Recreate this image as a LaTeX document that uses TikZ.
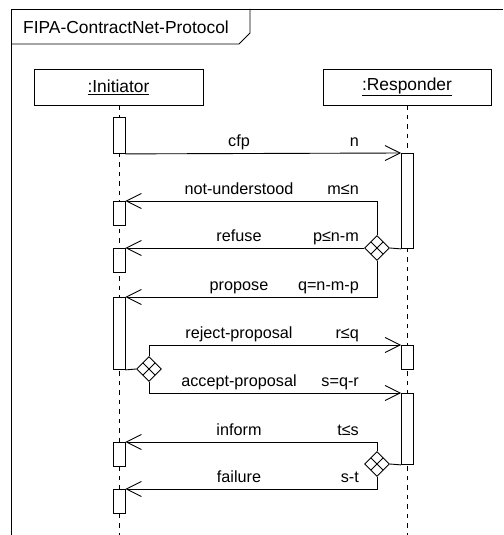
\documentclass[tikz,border=0pt]{standalone}
\usepackage{fontspec}
\setmainfont{Liberation Sans}
\usetikzlibrary{arrows.meta,shapes.geometric,calc}
\begin{document}
\begin{tikzpicture}[x=1pt,y=-1pt,
  every node/.style={font=\fontsize{16.2}{19}\selectfont},
  big text/.style={font=\fontsize{17.4}{20}\selectfont},
  thin line/.style={line width=0.9pt},
  head/.style={draw, thin line, big text, minimum height=36pt, inner sep=0pt},
  act/.style={draw, fill=white, thin line, minimum width=12pt, inner sep=0pt, anchor=north},
  life/.style={thin line, dash pattern=on 4.5pt off 5pt},
  msg/.style={thin line, -{Straight Barb[length=15pt,width=15pt]}},
  choice/.style={diamond, draw, fill=white, thin line, minimum width=25pt, minimum height=25pt, inner sep=0pt,
    path picture={
      \draw[thin line] ($(path picture bounding box.north)!.5!(path picture bounding box.west)$) --
                       ($(path picture bounding box.south)!.5!(path picture bounding box.east)$);
      \draw[thin line] ($(path picture bounding box.north)!.5!(path picture bounding box.east)$) --
                       ($(path picture bounding box.south)!.5!(path picture bounding box.west)$);
    }},
  msgname/.style={anchor=base, inner sep=0pt},
  guard/.style={anchor=base east, inner sep=0pt},
]
\useasboundingbox (0,0) rectangle (503,535);

% frame of the interaction
\draw[thin line] (11,535) -- (11,9) -- (503,9);
\draw[thin line] (11,44) -- (239,44) -- (250,33) -- (250,9);
\node[big text, anchor=base west, inner sep=0pt] (title) at (23,33.3) {FIPA-ContractNet-Protocol};

% lifeline heads
\node[head, minimum width=169pt] (ini) at (118.5,87) {\underline{:Initiator}};
\node[head, minimum width=168pt] (res) at (407,87) {\underline{:Responder}};

% lifelines
\coordinate (iniEnd) at (119,535);
\coordinate (resEnd) at (407,535);
\draw[life] (ini.south -| iniEnd) -- (iniEnd);
\draw[life] (res.south -| resEnd) -- (resEnd);

% activations of the initiator
\node[act, minimum height=36pt] (I0) at (119,117) {};
\node[act, minimum height=24pt] (I1) at (119,201) {};
\node[act, minimum height=24pt] (I2) at (119,248) {};
\node[act, minimum height=72pt] (I3) at (119,297) {};
\node[act, minimum height=24pt] (I4) at (119,442) {};
\node[act, minimum height=24pt] (I5) at (119,489) {};

% activations of the responder
\node[act, minimum height=95pt] (R0) at (407.5,153) {};
\node[act, minimum height=24pt] (R1) at (407.5,345) {};
\node[act, minimum height=71pt] (R2) at (407.5,393) {};

% decision points
\node[choice] (d1) at (377,248) {};
\node[choice] (d2) at (149,369) {};
\node[choice] (d3) at (377,464) {};

% call for proposals
\draw[msg] (I0.south east) -- (R0.north west);
\node[msgname] (m1) at (239,146) {cfp};
\node[guard] (g1) at (359,146) {n};

% first round of answers
\draw[thin line] (R0.south west) -- (d1.east);
\draw[msg] (d1.north) |- (I1.north east);
\node[msgname] (m2) at (239,194) {not-understood};
\node[guard] (g2) at (359,194) {m≤n};
\draw[msg] (d1.west) -- (I2.north east);
\node[msgname] (m3) at (239,241) {refuse};
\node[guard] (g3) at (359,241) {p≤n-m};
\draw[msg] (d1.south) |- (I3.north east);
\node[msgname] (m4) at (239,290) {propose};
\node[guard] (g4) at (359,290) {q=n-m-p};

% evaluation of proposals
\draw[thin line] (I3.south east) -- (d2.west);
\draw[msg] (d2.north) |- (R1.north west);
\node[msgname] (m5) at (239,338) {reject-proposal};
\node[guard] (g5) at (359,338) {r≤q};
\draw[msg] (d2.south) |- (R2.north west);
\node[msgname] (m6) at (239,386) {accept-proposal};
\node[guard] (g6) at (359,386) {s=q-r};

% results
\draw[thin line] (R2.south west) -- (d3.east);
\draw[msg] (d3.north) |- (I4.north east);
\node[msgname] (m7) at (239,435) {inform};
\node[guard] (g7) at (359,435) {t≤s};
\draw[msg] (d3.south) |- (I5.north east);
\node[msgname] (m8) at (239,482) {failure};
\node[guard] (g8) at (359,482) {s-t};
\end{tikzpicture}
\end{document}
